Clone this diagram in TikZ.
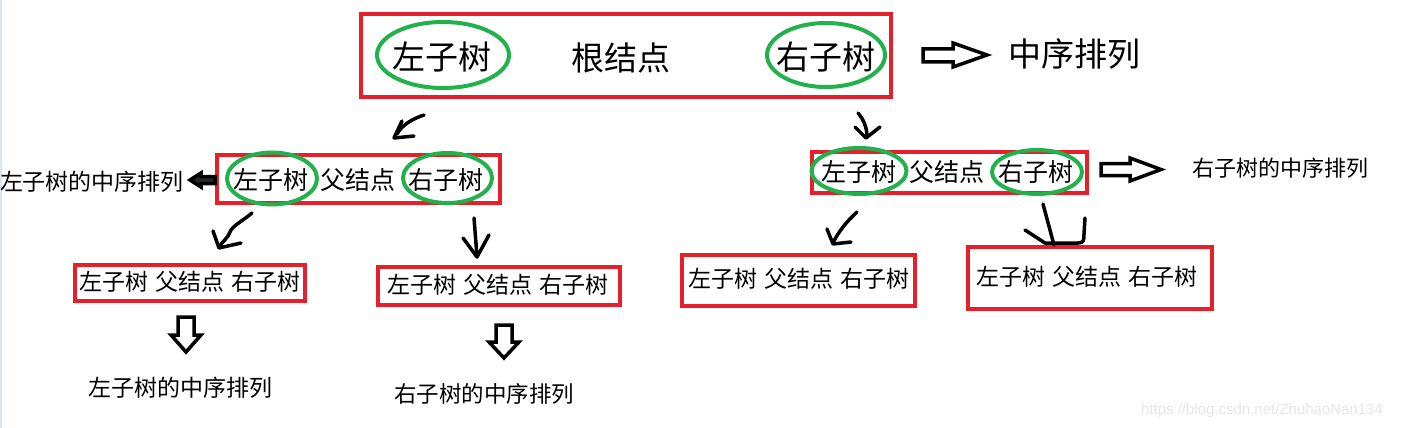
\documentclass[tikz,border=0pt]{standalone}
\usepackage{fontspec}
\newfontfamily\cjk{Noto Sans CJK SC}
\newfontfamily\wmfont{Liberation Sans}
\usetikzlibrary{shapes.geometric}
\definecolor{pred}{HTML}{E5202A}
\definecolor{pgreen}{HTML}{22B14C}
\definecolor{edgeblue}{HTML}{DCE4EE}
\definecolor{wmgray}{HTML}{E6E6E6}
\begin{document}
\begin{tikzpicture}[x=1pt,y=-1pt,
  redbox/.style={draw=pred, line width=4pt, rectangle, inner sep=0pt},
  greenell/.style={draw=pgreen, line width=4pt, ellipse, inner sep=0pt},
  bigtxt/.style={font=\cjk\fontsize{33}{33}\selectfont, inner sep=0pt},
  midtxt/.style={font=\cjk\fontsize{25}{25}\selectfont, inner sep=0pt},
  smalltxt/.style={font=\cjk\fontsize{23}{23}\selectfont, inner sep=0pt},
  hollow/.style={draw=black, fill=white, line width=3.5pt, line join=miter},
  hand/.style={draw=black, line width=3.5pt, line cap=round, line join=round}]
\useasboundingbox (0,0) rectangle (1401,428);
\fill[white] (0,0) rectangle (1401,428);
\fill[edgeblue] (0,0) rectangle (2,428);

% ---------- root level ----------
\node[redbox, minimum width=530pt, minimum height=83pt] (root) at (626,55.5) {};
\node[greenell, minimum width=132pt, minimum height=66pt] (rootL) at (443,55) {};
\node[greenell, minimum width=118pt, minimum height=64pt] (rootR) at (826,55) {};
\node[bigtxt] (rootLt) at (442,57) {左子树};
\node[bigtxt] (rootMt) at (621,58) {根结点};
\node[bigtxt] (rootRt) at (826,57) {右子树};
\draw[hollow] (923,49) -- (953,49) -- (953,43) -- (987,55) -- (953,67) -- (953,62) -- (923,62) -- cycle;
\node[bigtxt] (rootOut) at (1074,54) {中序排列};

% ---------- left level 2 ----------
\node[redbox, minimum width=283pt, minimum height=48pt] (L) at (358.5,179) {};
\node[greenell, minimum width=90pt, minimum height=52pt] (LL) at (272,178.5) {};
\node[greenell, minimum width=89pt, minimum height=50pt] (LR) at (447.5,178) {};
\node[midtxt] (LLt) at (271,180) {左子树};
\node[midtxt] (LMt) at (358,180) {父结点};
\node[midtxt] (LRt) at (446,180) {右子树};
\draw[hollow, fill=black!85] (215,176.5) -- (201,176.5) -- (201,173) -- (190,180) -- (201,187) -- (201,183.5) -- (215,183.5) -- cycle;
\node[smalltxt] (Lout) at (92,182) {左子树的中序排列};

% ---------- right level 2 ----------
\node[redbox, minimum width=275pt, minimum height=41pt] (R) at (949.5,172.5) {};
\node[greenell, minimum width=95pt, minimum height=46pt] (RL) at (859,171) {};
\node[greenell, minimum width=90pt, minimum height=44pt] (RR) at (1037,172) {};
\node[midtxt] (RLt) at (859,172) {左子树};
\node[midtxt] (RMt) at (947,172) {父结点};
\node[midtxt] (RRt) at (1036,172) {右子树};
\draw[hollow] (1101,163.5) -- (1130,163.5) -- (1130,158) -- (1161,169.5) -- (1130,181) -- (1130,175.5) -- (1101,175.5) -- cycle;
\node[smalltxt, font=\cjk\fontsize{22}{22}\selectfont] (Rout) at (1280,168) {右子树的中序排列};

% ---------- level 3 ----------
\node[redbox, minimum width=230pt, minimum height=36pt] (A) at (190,283) {};
\node[smalltxt] (At) at (190,282) {左子树\hspace{0.3em}父结点\hspace{0.3em}右子树};
\node[redbox, minimum width=242pt, minimum height=38pt] (B) at (499,286) {};
\node[smalltxt] (Bt) at (498,285) {左子树\hspace{0.3em}父结点\hspace{0.3em}右子树};
\node[redbox, minimum width=233pt, minimum height=51pt] (C) at (798.5,280.5) {};
\node[smalltxt] (Ct) at (799,279) {左子树\hspace{0.3em}父结点\hspace{0.3em}右子树};
\node[redbox, minimum width=244pt, minimum height=62pt] (D) at (1090,278) {};
\node[smalltxt] (Dt) at (1087,277) {左子树\hspace{0.3em}父结点\hspace{0.3em}右子树};

% hollow down arrows and results
\draw[hollow] (178,317) -- (194,317) -- (194,335) -- (201,335) -- (186,352) -- (171,335) -- (178,335) -- cycle;
\node[smalltxt] (Aout) at (180,388) {左子树的中序排列};
\draw[hollow] (496,325) -- (512,325) -- (512,342) -- (519,342) -- (504,358) -- (489,342) -- (496,342) -- cycle;
\node[smalltxt, font=\cjk\fontsize{22.5}{22.5}\selectfont] (Bout) at (484,394) {右子树的中序排列};

% ---------- hand-drawn arrows ----------
% root -> left
\draw[hand] (424,115) .. controls (412,119) and (402,125) .. (397,134);
\draw[hand] (402,121) -- (394,138) -- (414,136);
% root -> right
\draw[hand] (858,113) .. controls (864,120) and (867,128) .. (867,137);
\draw[hand] (855,127) -- (866,138) -- (880,127);
% left -> A
\draw[hand] (252,213) .. controls (244,220) and (232,226) .. (230,232) .. controls (228,238) and (222,242) .. (219,247);
\draw[hand] (213,231) -- (219,248) -- (241,243);
% left -> B
\draw[hand] (474,218) -- (477,256);
\draw[hand] (463,238) -- (477,257) -- (489,235);
% right -> C
\draw[hand] (857,212) .. controls (848,220) and (838,232) .. (833,243);
\draw[hand] (827,229) -- (833,244) -- (851,242);
% right -> D
\draw[hand] (1043,204) -- (1054,245);
\draw[hand] (1025,230) -- (1045,243) -- (1078,243) .. controls (1084,243) and (1084,240) .. (1084,234) -- (1085,218);

% watermark
\node[font=\wmfont\fontsize{15}{15}\selectfont, text=wmgray, inner sep=0pt] (wm) at (1262,411) {https://blog.csdn.net/ZhuhaoNan134};
\end{tikzpicture}
\end{document}
